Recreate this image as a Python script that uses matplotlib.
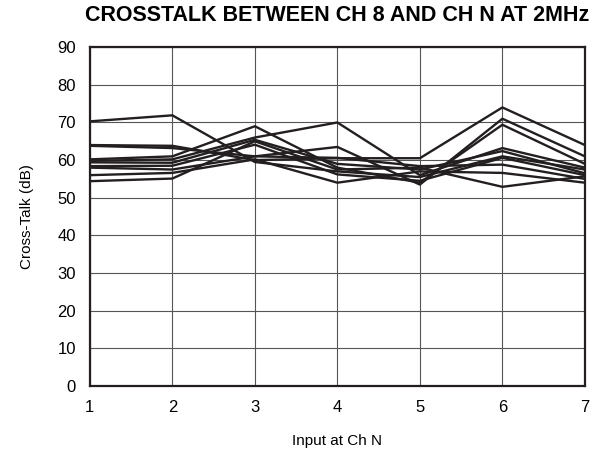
import matplotlib
matplotlib.use("Agg")
import matplotlib.pyplot as plt

plt.rcParams["font.family"] = ["Liberation Sans", "DejaVu Sans"]

channels = [1, 2, 3, 4, 5, 6, 7]

ch_a = [70.3, 71.9, 59.5, 57.0, 55.5, 61.0, 57.5]
ch_b = [64.0, 63.8, 60.0, 60.5, 60.5, 74.0, 64.0]
ch_c = [63.8, 63.2, 61.0, 63.5, 53.5, 71.0, 61.0]
ch_d = [60.2, 61.0, 69.0, 58.0, 54.0, 69.4, 59.0]
ch_e = [59.8, 60.2, 66.0, 70.0, 56.0, 63.2, 58.0]
ch_f = [59.4, 59.3, 65.4, 59.0, 57.5, 62.4, 56.5]
ch_g = [58.4, 58.5, 64.1, 56.2, 54.5, 60.6, 56.0]
ch_h = [58.0, 57.5, 61.0, 60.6, 58.4, 58.8, 55.0]
ch_i = [56.0, 56.6, 60.2, 54.0, 57.0, 56.6, 54.0]
ch_j = [54.4, 55.1, 65.0, 57.5, 58.0, 52.9, 55.7]

series = [ch_a, ch_b, ch_c, ch_d, ch_e, ch_f, ch_g, ch_h, ch_i, ch_j]

fig = plt.figure(figsize=(5.95, 4.54), dpi=100)
ax = fig.add_axes([0.151, 0.150, 0.832, 0.746])

for s in series:
    ax.plot(channels, s, color="#231f20", linewidth=1.7)

ax.set_xlim(1, 7)
ax.set_ylim(0, 90)
ax.set_xticks(channels)
ax.set_yticks(range(0, 91, 10))
ax.grid(True, color="#555555", linewidth=0.8)
ax.tick_params(length=0, labelsize=12, pad=10)

for sp in ax.spines.values():
    sp.set_linewidth(1.6)
    sp.set_color("#231f20")

ax.set_title("CROSSTALK BETWEEN CH 8 AND CH N AT 2MHz",
             fontsize=15.5, fontweight="bold", pad=19)
ax.set_ylabel("Cross-Talk (dB)", fontsize=11, labelpad=17)
ax.set_xlabel("Input at Ch N", fontsize=11, labelpad=14)

fig.savefig("out.png", dpi=100)
